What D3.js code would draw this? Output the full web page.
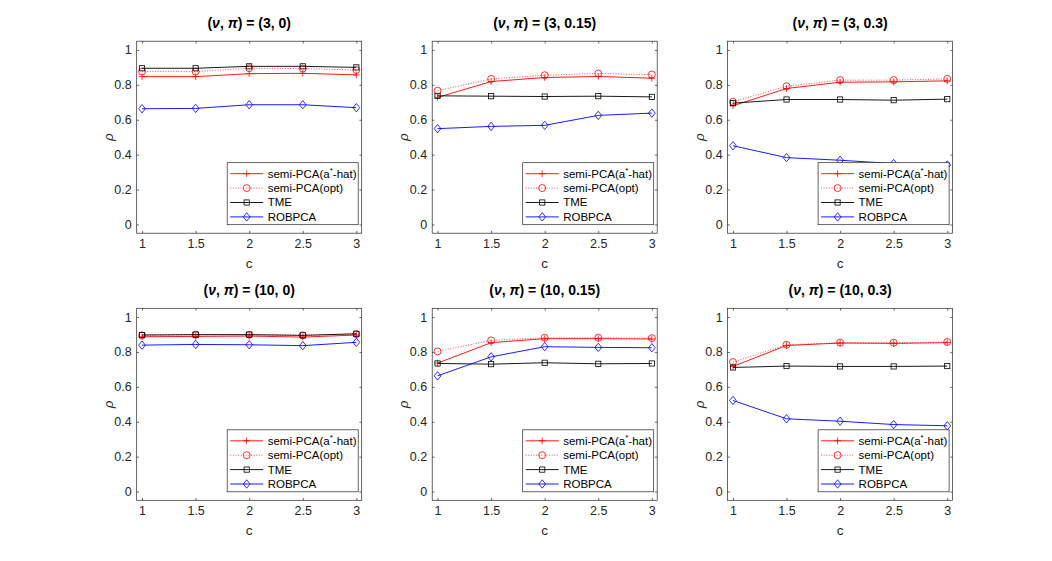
<!DOCTYPE html>
<html lang="en">
  <head>
    <meta charset="UTF-8" />
    <title>rho vs c</title>
    <script src="https://cdn.jsdelivr.net/npm/d3@7"></script>
    <style>
      body {
        margin: 0;
        background-color: #ffffff;
        font-family: "Liberation Sans", Arial, sans-serif;
      }
    </style>
  </head>
  <body>
    <div id="chart"></div>

    <script>
      // Data
      const cValues = [1, 1.5, 2, 2.5, 3];
      const yTicks = [0, 0.2, 0.4, 0.6, 0.8, 1];
      const yTickLabels = ["0", "0.2", "0.4", "0.6", "0.8", "1"];
      const xTickLabels = ["1", "1.5", "2", "2.5", "3"];
      const panelParams = [
        ["3", "0"], ["3", "0.15"], ["3", "0.3"],
        ["10", "0"], ["10", "0.15"], ["10", "0.3"],
      ];
      const seriesNames = ["semi-PCA(a*-hat)", "semi-PCA(opt)", "TME", "ROBPCA"];

      const aHat = [
        [0.847, 0.847, 0.864, 0.866, 0.857],
        [0.728, 0.819, 0.842, 0.848, 0.838],
        [0.68, 0.779, 0.815, 0.817, 0.823],
        [0.887, 0.889, 0.891, 0.885, 0.897],
        [0.736, 0.853, 0.876, 0.876, 0.874],
        [0.717, 0.837, 0.851, 0.849, 0.853],
      ];
      const opt = [
        [0.876, 0.876, 0.895, 0.893, 0.885],
        [0.766, 0.834, 0.855, 0.865, 0.859],
        [0.703, 0.792, 0.827, 0.827, 0.834],
        [0.895, 0.899, 0.899, 0.895, 0.902],
        [0.803, 0.866, 0.881, 0.881, 0.879],
        [0.742, 0.841, 0.853, 0.853, 0.857],
      ];
      const tme = [
        [0.895, 0.895, 0.906, 0.906, 0.9],
        [0.737, 0.735, 0.733, 0.735, 0.731],
        [0.695, 0.716, 0.716, 0.712, 0.718],
        [0.897, 0.899, 0.899, 0.895, 0.904],
        [0.734, 0.73, 0.738, 0.732, 0.734],
        [0.711, 0.719, 0.717, 0.717, 0.719],
      ];
      const robpca = [
        [0.663, 0.665, 0.686, 0.686, 0.669],
        [0.549, 0.562, 0.568, 0.625, 0.638],
        [0.451, 0.383, 0.368, 0.349, 0.341],
        [0.839, 0.843, 0.841, 0.836, 0.855],
        [0.663, 0.772, 0.83, 0.826, 0.824],
        [0.522, 0.417, 0.403, 0.384, 0.377],
      ];

      const allSeries = [aHat, opt, tme, robpca];
      const styles = [
        { color: "#ff0000", dash: null, marker: "plus" },
        { color: "#ff0000", dash: "1,1.6", marker: "circle" },
        { color: "#000000", dash: null, marker: "square" },
        { color: "#0000ff", dash: null, marker: "diamond" },
      ];

      const axisColor = "#262626";
      const colLeft = [136.7, 432.2, 727.6];
      const rowTop = [41.2, 308.3];
      const width = 225;
      const height = 192;

      const svg = d3
        .select("#chart")
        .append("svg")
        .attr("width", 1052)
        .attr("height", 561)
        .style("font-family", '"Liberation Sans", Arial, sans-serif');

      function drawMarker(g, type, cx, cy, color) {
        if (type === "plus") {
          g.append("path")
            .attr("d", `M${cx - 3.3},${cy}H${cx + 3.3}M${cx},${cy - 3.3}V${cy + 3.3}`)
            .attr("stroke", color)
            .attr("stroke-width", 0.8)
            .attr("fill", "none");
        } else if (type === "circle") {
          g.append("circle")
            .attr("cx", cx)
            .attr("cy", cy)
            .attr("r", 3.5)
            .attr("stroke", color)
            .attr("stroke-width", 0.8)
            .attr("fill", "none");
        } else if (type === "square") {
          g.append("rect")
            .attr("x", cx - 2.6)
            .attr("y", cy - 2.6)
            .attr("width", 5.2)
            .attr("height", 5.2)
            .attr("stroke", color)
            .attr("stroke-width", 0.8)
            .attr("fill", "none");
        } else {
          g.append("path")
            .attr("d", `M${cx},${cy - 4.2}L${cx + 3.4},${cy}L${cx},${cy + 4.2}L${cx - 3.4},${cy}Z`)
            .attr("stroke", color)
            .attr("stroke-width", 0.8)
            .attr("fill", "none");
        }
      }

      panelParams.forEach((p, k) => {
        const x0 = colLeft[k % 3];
        const y0 = rowTop[Math.floor(k / 3)];

        const x = d3.scaleLinear().domain([0.95, 3.05]).range([0, width]);
        const y = d3.scaleLinear().domain([-0.05, 1.05]).range([height, 0]);

        const g = svg.append("g").attr("transform", `translate(${x0},${y0})`);

        // bottom axis
        const xAxis = g
          .append("g")
          .attr("transform", `translate(0,${height})`)
          .call(
            d3
              .axisBottom(x)
              .tickValues(cValues)
              .tickFormat((d, i) => xTickLabels[i])
              .tickSizeInner(-2.3)
              .tickSizeOuter(0)
              .tickPadding(6)
          );
        // left axis
        const yAxis = g.append("g").call(
          d3
            .axisLeft(y)
            .tickValues(yTicks)
            .tickFormat((d, i) => yTickLabels[i])
            .tickSizeInner(-2.3)
            .tickSizeOuter(0)
            .tickPadding(5)
        );
        // top and right ticks
        g.append("g")
          .call(d3.axisTop(x).tickValues(cValues).tickFormat("").tickSizeInner(-2.3).tickSizeOuter(0));
        g.append("g")
          .attr("transform", `translate(${width},0)`)
          .call(d3.axisRight(y).tickValues(yTicks).tickFormat("").tickSizeInner(-2.3).tickSizeOuter(0));

        g.selectAll(".domain").attr("stroke", "none");
        g.selectAll(".tick line").attr("stroke", axisColor).attr("stroke-width", 0.7);
        [xAxis, yAxis].forEach((a) =>
          a
            .selectAll(".tick text")
            .attr("fill", axisColor)
            .style("font-size", "12.5px")
            .style("font-family", '"Liberation Sans", Arial, sans-serif')
        );

        // axes box
        g.append("rect")
          .attr("width", width)
          .attr("height", height)
          .attr("fill", "none")
          .attr("stroke", axisColor)
          .attr("stroke-width", 0.7);

        // series
        allSeries.forEach((series, s) => {
          const st = styles[s];
          const vals = series[k];
          g.append("path")
            .datum(vals)
            .attr("fill", "none")
            .attr("stroke", st.color)
            .attr("stroke-width", s === 1 ? 0.7 : 0.9)
            .attr("stroke-dasharray", st.dash)
            .attr(
              "d",
              d3
                .line()
                .x((d, i) => x(cValues[i]))
                .y((d) => y(d))
            );
          vals.forEach((v, i) => drawMarker(g, st.marker, x(cValues[i]), y(v), st.color));
        });

        // title
        const title = g
          .append("text")
          .attr("x", width / 2)
          .attr("y", -13)
          .attr("text-anchor", "middle")
          .attr("fill", "#000")
          .style("font-size", "14px")
          .style("font-weight", "bold");
        title.append("tspan").text("(");
        title.append("tspan").style("font-style", "italic").text("\u03bd");
        title.append("tspan").text(", ");
        title.append("tspan").style("font-style", "italic").text("\u03c0");
        title.append("tspan").text(`) = (${p[0]}, ${p[1]})`);

        // axis labels
        g.append("text")
          .attr("x", width / 2)
          .attr("y", height + 35)
          .attr("text-anchor", "middle")
          .attr("fill", axisColor)
          .style("font-size", "13.5px")
          .text("c");
        g.append("text")
          .attr("transform", `translate(-24,${height / 2}) rotate(-90)`)
          .attr("text-anchor", "middle")
          .attr("fill", axisColor)
          .style("font-size", "13.5px")
          .style("font-style", "italic")
          .text("\u03c1");

        // legend (southeast)
        const lg = g.append("g").attr("transform", `translate(${width - 134.5},${height - 70.5})`);
        lg.append("rect")
          .attr("width", 131)
          .attr("height", 62)
          .attr("fill", "#fff")
          .attr("stroke", axisColor)
          .attr("stroke-width", 0.7);
        seriesNames.forEach((name, s) => {
          const st = styles[s];
          const ly = 11 + s * 14.4;
          lg.append("line")
            .attr("x1", 3)
            .attr("x2", 36)
            .attr("y1", ly)
            .attr("y2", ly)
            .attr("stroke", st.color)
            .attr("stroke-width", s === 1 ? 0.7 : 0.9)
            .attr("stroke-dasharray", st.dash);
          drawMarker(lg, st.marker, 19.5, ly, st.color);
          const t = lg
            .append("text")
            .attr("x", 40.5)
            .attr("y", ly + 4)
            .attr("fill", "#000")
            .style("font-size", "11.5px");
          if (name.includes("*")) {
            const parts = name.split("*");
            t.append("tspan").text(parts[0]);
            t.append("tspan").attr("dy", -4.5).style("font-size", "8px").text("*");
            t.append("tspan").attr("dy", 4.5).text(parts[1]);
          } else {
            t.text(name);
          }
        });
      });
    </script>
  </body>
</html>
